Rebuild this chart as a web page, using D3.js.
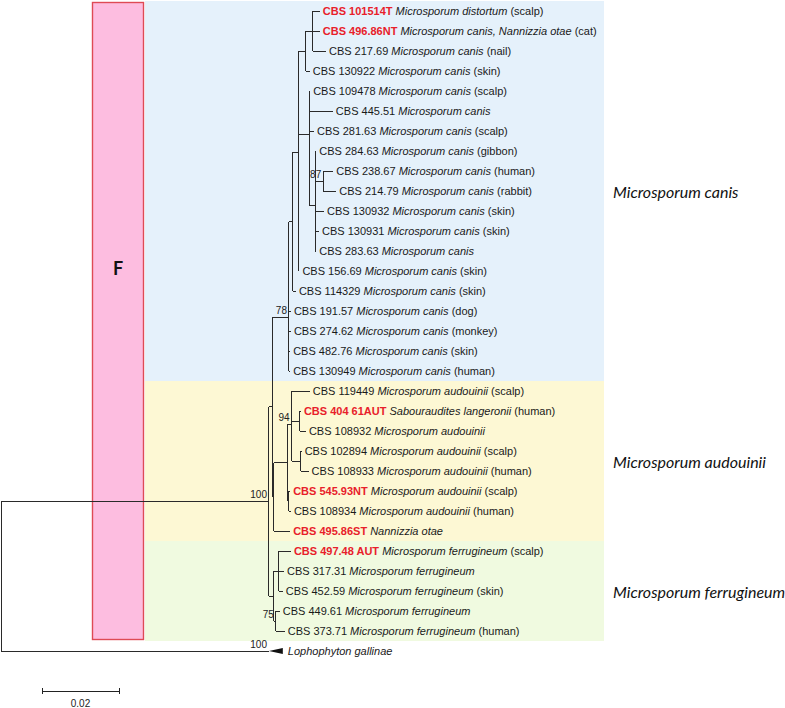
<!DOCTYPE html>
<html><head><meta charset="utf-8">
<script src="https://cdn.jsdelivr.net/npm/d3@7"></script>
<style>body{margin:0;background:#fff}svg{display:block}</style>
</head><body><svg id="chart" width="785" height="708"></svg>
<script>
// ---- tree topology (pre-order; children in display order) ----
const nodeIds = ["root","N1","N2","Ncanis","N3","C","D","A","L0","L1","L2","L3","E","L4","L5","L6","H","L7","G","L8","L9","L10","L11","L12","L13","L14","L15","L16","L17","L18","NaudAll","Naud","Naud1","L19","N94","L20","L21","Nb","L22","L23","P","L24","L25","L26","Ferr","Fupper","L27","L28","L29","Fpair","L30","L31","L32"];
const parentIds = ["","root","N1","N2","Ncanis","N3","C","D","A","A","A","D","C","E","E","E","E","H","H","G","G","H","H","H","C","N3","Ncanis","Ncanis","Ncanis","Ncanis","N2","NaudAll","Naud","Naud1","Naud1","N94","N94","Naud1","Nb","Nb","Naud","P","P","NaudAll","N1","Ferr","Fupper","Fupper","Fupper","Ferr","Fpair","Fpair","root"];
// branch lengths (substitutions per site)
const branchLengths = [0,0.0696,0.0010,0.0042,0.0010,0.0016,0.0018,0.0018,0.0018,0.0018,0.0034,0.0010,0.0026,0.0003,0.0062,0.0013,0.0016,0.0003,0.0021,0.0026,0.0034,0.0023,0.0010,0.0003,0.0001,0.0008,0.0005,0.0005,0.0003,0.0003,0.0003,0.0036,0.0010,0.0047,0.0021,0.0003,0.0016,0.0023,0.0003,0.0021,0.0003,0.0003,0.0005,0.0042,0.0013,0.0013,0.0031,0.0013,0.0010,0.0005,0.0010,0.0023,0.0696];
// bootstrap support
const bootNodes = ["N1","Ncanis","G","Naud1","Fpair","L32"];
const bootValues = [100,78,87,94,75,100];
// collapsed outgroup clade depth
const collapsedNode = "L32";
const collapsedDepth = 0.0036;

// ---- leaf labels (in leaf order) ----
const leafStrains = ["CBS 101514T","CBS 496.86NT","CBS 217.69","CBS 130922","CBS 109478","CBS 445.51","CBS 281.63","CBS 284.63","CBS 238.67","CBS 214.79","CBS 130932","CBS 130931","CBS 283.63","CBS 156.69","CBS 114329","CBS 191.57","CBS 274.62","CBS 482.76","CBS 130949","CBS 119449","CBS 404 61AUT","CBS 108932","CBS 102894","CBS 108933","CBS 545.93NT","CBS 108934","CBS 495.86ST","CBS 497.48 AUT","CBS 317.31","CBS 452.59","CBS 449.61","CBS 373.71",""];
const leafSpecies = ["Microsporum distortum","Microsporum canis, Nannizzia otae","Microsporum canis","Microsporum canis","Microsporum canis","Microsporum canis","Microsporum canis","Microsporum canis","Microsporum canis","Microsporum canis","Microsporum canis","Microsporum canis","Microsporum canis","Microsporum canis","Microsporum canis","Microsporum canis","Microsporum canis","Microsporum canis","Microsporum canis","Microsporum audouinii","Sabouraudites langeronii","Microsporum audouinii","Microsporum audouinii","Microsporum audouinii","Microsporum audouinii","Microsporum audouinii","Nannizzia otae","Microsporum ferrugineum","Microsporum ferrugineum","Microsporum ferrugineum","Microsporum ferrugineum","Microsporum ferrugineum","Lophophyton gallinae"];
const leafHosts = ["scalp","cat","nail","skin","scalp","","scalp","gibbon","human","rabbit","skin","skin","","skin","skin","dog","monkey","skin","human","scalp","human","","scalp","human","scalp","human","","scalp","","skin","","human",""];
const leafIsType = [1,1,0,0,0,0,0,0,0,0,0,0,0,0,0,0,0,0,0,0,1,0,0,0,1,0,1,1,0,0,0,0,0];

// ---- clades ----
const cladeNames = ["Microsporum canis","Microsporum audouinii","Microsporum ferrugineum"];
const cladeFirst = [0,19,27];
const cladeLast = [18,26,31];
const cladeColors = ["#e5f1fb","#fdf8d4","#f0fae0"];
const groupLabel = "F";
const scaleBarValue = 0.02;

// ---- build hierarchy ----
const rows = nodeIds.map((id,i)=>({id, parent: parentIds[i] || null, len: branchLengths[i]}));
const root = d3.stratify().id(d=>d.id).parentId(d=>d.parent)(rows);
root.eachBefore(n=>{ n.dist = n.parent ? n.parent.dist + n.data.len : 0; });
const leaves = root.leaves();

const svg = d3.select("#chart");
const x = d3.scaleLinear().domain([0, scaleBarValue]).range([1, 78]);
const y = d3.scaleLinear().domain([0, leaves.length-1]).range([11, 651]);
const half = (y(1)-y(0))/2;

leaves.forEach((l,i)=>{ l.idx=i; l.py=y(i); });
root.eachAfter(n=>{ if(n.children) n.py = d3.mean(n.children, c=>c.py); n.px = x(n.dist); });

// background bands
const bandX0 = 145, bandX1 = 604;
svg.append("g").selectAll("rect").data(cladeNames).join("rect")
  .attr("x", bandX0).attr("width", bandX1-bandX0)
  .attr("y",(d,i)=>y(cladeFirst[i])-half).attr("height",(d,i)=>y(cladeLast[i])-y(cladeFirst[i])+2*half)
  .attr("fill",(d,i)=>cladeColors[i]);

// group box
const gy0 = y(cladeFirst[0])-half+1.5, gy1 = y(cladeLast[cladeLast.length-1])+half-1.5;
svg.append("rect").attr("x",92.5).attr("y",gy0).attr("width",51).attr("height",gy1-gy0)
  .attr("fill","#fdbde0").attr("stroke","#de4a55").attr("stroke-width",1.4);
svg.append("text").attr("x",118).attr("y",268).attr("text-anchor","middle").attr("dominant-baseline","central")
  .attr("font-family","Lato, 'Open Sans', sans-serif").attr("font-weight","bold").attr("font-size",18).attr("fill","#111").text(groupLabel);

// clade labels
svg.append("g").selectAll("text").data(cladeNames).join("text")
  .attr("x",613).attr("y",(d,i)=>(y(cladeFirst[i])+y(cladeLast[i]))/2)
  .attr("dominant-baseline","central")
  .attr("font-family","Lato, 'Open Sans', sans-serif").attr("font-style","italic").attr("font-size",16).attr("fill","#111")
  .text(d=>d);

// branches
const lineCol = "#2a2a2a";
const br = svg.append("g").attr("stroke",lineCol).attr("stroke-width",1).attr("fill","none").attr("shape-rendering","crispEdges");
root.descendants().filter(n=>n.parent).forEach(n=>{
  br.append("line").attr("x1",n.parent.px).attr("x2",n.px).attr("y1",n.py).attr("y2",n.py);
});
root.descendants().filter(n=>n.children).forEach(n=>{
  br.append("line").attr("x1",n.px).attr("x2",n.px).attr("y1",n.children[0].py).attr("y2",n.children[n.children.length-1].py);
});

// collapsed clade triangle
const cn = root.find(n=>n.id===collapsedNode);
const tipX = x(cn.dist + collapsedDepth);
svg.append("path").attr("d",`M${cn.px},${cn.py}L${tipX},${cn.py-3}L${tipX},${cn.py+3}Z`).attr("fill","#111");

// bootstrap labels
bootNodes.forEach((id,i)=>{
  const n = root.find(d=>d.id===id);
  svg.append("text").attr("x",n.px-2).attr("y",n.py-3).attr("text-anchor","end")
    .attr("font-family","'Liberation Sans', Arial, sans-serif").attr("font-size",10).attr("fill","#222").text(bootValues[i]);
});

// leaf labels
leaves.forEach((l,i)=>{
  const lx = (l.id===collapsedNode ? tipX + 5 : l.px + 3);
  const t = svg.append("text").attr("x",lx).attr("y",l.py).attr("dy","0.35em")
    .attr("font-family","'Liberation Sans', Arial, sans-serif").attr("font-size",11).attr("fill","#1a1a1a");
  if(leafStrains[i]) t.append("tspan").attr("font-weight",leafIsType[i]?"bold":"normal").attr("fill",leafIsType[i]?"#e8202a":"#1a1a1a").text(leafStrains[i]+" ");
  t.append("tspan").attr("font-style","italic").text(leafSpecies[i]);
  if(leafHosts[i]) t.append("tspan").text(" ("+leafHosts[i]+")");
});

// scale bar
const sb0 = 42, sbY = 691;
const sbW = x(scaleBarValue)-x(0);
const sg = svg.append("g").attr("stroke","#222").attr("stroke-width",1).attr("shape-rendering","crispEdges");
sg.append("line").attr("x1",sb0).attr("x2",sb0+sbW).attr("y1",sbY).attr("y2",sbY);
sg.append("line").attr("x1",sb0).attr("x2",sb0).attr("y1",sbY-3).attr("y2",sbY+3);
sg.append("line").attr("x1",sb0+sbW).attr("x2",sb0+sbW).attr("y1",sbY-3).attr("y2",sbY+3);
svg.append("text").attr("x",sb0+sbW/2).attr("y",sbY+12).attr("dy","0.35em").attr("text-anchor","middle")
  .attr("font-family","'Liberation Sans', Arial, sans-serif").attr("font-size",10).attr("fill","#222").text(scaleBarValue);
</script></body></html>
